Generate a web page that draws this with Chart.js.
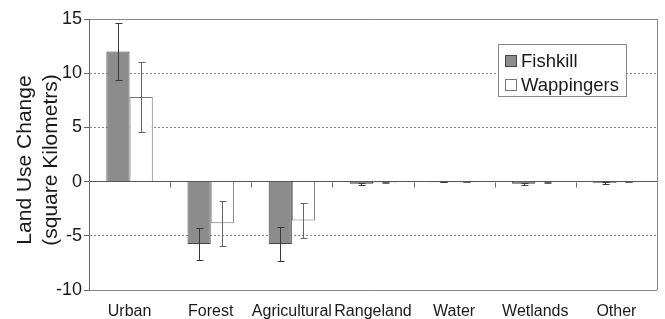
<!DOCTYPE html>
<html><head><meta charset="utf-8">
<script src="https://cdn.jsdelivr.net/npm/chart.js@4"></script>
<style>html,body{margin:0;padding:0;background:#fff;}#wrap{width:665px;height:319px;}</style>
</head><body><div id="wrap"><canvas id="c" width="665" height="319"></canvas></div>
<script>
const categories = ['Urban', 'Forest', 'Agricultural', 'Rangeland', 'Water', 'Wetlands', 'Other'];
const seriesNames = ['Fishkill', 'Wappingers'];
const fishkill = [12.0, -5.75, -5.75, -0.2, -0.05, -0.2, -0.13];
const wappingers = [7.8, -3.85, -3.6, -0.1, -0.05, -0.07, -0.05];
const fishkillErr = [2.6, 1.5, 1.6, 0.08, 0.03, 0.08, 0.05];
const wappingersErr = [3.2, 2.05, 1.6, 0.05, 0.03, 0.04, 0.03];
const yTicks = [-10, -5, 0, 5, 10, 15];
const yTitle = ['Land Use Change', '(square Kilometrs)'];

const FONT = '"Liberation Sans", Arial, sans-serif';
const TXT = '#1a1a1a';
const errors = [fishkillErr, wappingersErr];
const errColors = ['#3a3a3a', '#666666'];

const extras = {
  id: 'extras',
  afterDatasetsDraw(chart) {
    const ctx = chart.ctx, ys = chart.scales.y, xs = chart.scales.x, a = chart.chartArea;
    ctx.save();
    // right border
    ctx.strokeStyle = '#888'; ctx.lineWidth = 1;
    ctx.beginPath(); ctx.moveTo(Math.round(a.right) + 0.5, a.top); ctx.lineTo(Math.round(a.right) + 0.5, a.bottom); ctx.stroke();
    // tick marks on zero line at category boundaries
    const y0 = Math.round(ys.getPixelForValue(0)) + 0.5;
    ctx.strokeStyle = '#666';
    for (let i = 0; i < categories.length - 1; i++) {
      const xb = Math.round((xs.getPixelForValue(i) + xs.getPixelForValue(i + 1)) / 2) + 0.5;
      ctx.beginPath(); ctx.moveTo(xb, y0); ctx.lineTo(xb, y0 + 5); ctx.stroke();
    }
    // error bars
    chart.data.datasets.forEach((ds, di) => {
      const meta = chart.getDatasetMeta(di);
      ctx.strokeStyle = errColors[di]; ctx.lineWidth = 1;
      meta.data.forEach((bar, i) => {
        const v = ds.data[i], e = errors[di][i];
        const x = Math.round(bar.x) + 0.5;
        const yt = Math.round(ys.getPixelForValue(v + e)) + 0.5;
        const yb = Math.round(ys.getPixelForValue(v - e)) + 0.5;
        ctx.beginPath();
        ctx.moveTo(x, yt); ctx.lineTo(x, yb);
        ctx.moveTo(x - 3, yt); ctx.lineTo(x + 4, yt);
        ctx.moveTo(x - 3, yb); ctx.lineTo(x + 4, yb);
        ctx.stroke();
      });
    });
    // legend
    const lx = a.right - 159, ly = a.top + 25, lw = 128, lh = 52;
    ctx.fillStyle = '#fff'; ctx.fillRect(lx, ly, lw, lh);
    ctx.strokeStyle = '#888'; ctx.strokeRect(lx + 0.5, ly + 0.5, lw, lh);
    ctx.font = '18.5px ' + FONT; ctx.textBaseline = 'middle'; ctx.textAlign = 'left';
    chart.data.datasets.forEach((ds, di) => {
      const cy = ly + 16.5 + di * 24.5;
      ctx.fillStyle = ds.backgroundColor; ctx.fillRect(lx + 7, Math.round(cy - 6), 12, 12);
      ctx.strokeStyle = ds.borderColor; ctx.strokeRect(lx + 7.5, Math.round(cy - 6) + 0.5, 11, 11);
      ctx.fillStyle = TXT; ctx.fillText(ds.label, lx + 23, cy + 1);
    });
    // y title
    ctx.translate(0, 0);
    ctx.font = '21px ' + FONT; ctx.fillStyle = TXT; ctx.textAlign = 'center';
    yTitle.forEach((t, i) => {
      ctx.save(); ctx.translate(25 + i * 26, 160); ctx.rotate(-Math.PI / 2);
      ctx.fillText(t, 0, 0); ctx.restore();
    });
    ctx.restore();
  }
};

new Chart(document.getElementById('c'), {
  type: 'bar',
  data: {
    labels: categories,
    datasets: [
      { label: seriesNames[0], data: fishkill, backgroundColor: '#8c8c8c', borderColor: '#444', borderWidth: 1 },
      { label: seriesNames[1], data: wappingers, backgroundColor: '#ffffff', borderColor: '#777', borderWidth: 1 }
    ]
  },
  options: {
    responsive: false, animation: false, devicePixelRatio: 1,
    layout: { padding: { top: 19, right: 8, left: 0, bottom: 0 } },
    datasets: { bar: { categoryPercentage: 0.572, barPercentage: 1.0 } },
    plugins: { legend: { display: false }, tooltip: { enabled: false } },
    scales: {
      x: {
        grid: { display: false, drawTicks: false },
        border: { display: false },
        ticks: { color: TXT, font: { family: FONT, size: 16 }, padding: 12, maxRotation: 0, autoSkip: false },
        afterFit(s) { s.height = 29; }
      },
      y: {
        min: -10, max: 15,
        afterBuildTicks(s) { s.ticks = yTicks.map(v => ({ value: v })); },
        ticks: { color: TXT, font: { family: FONT, size: 18 }, padding: 2 },
        grid: {
          color: c => (c.tick && c.tick.value === 0) ? '#555' : '#888',
          lineWidth: 1, tickLength: 5, tickColor: '#666', tickBorderDash: []
        },
        border: {
          display: true, color: '#666', width: 1,
          dash: c => (c.tick && [5, 10, -5].includes(c.tick.value)) ? [2, 2] : []
        },
        afterFit(s) { s.width = 89; }
      }
    }
  },
  plugins: [extras]
});
</script></body></html>
